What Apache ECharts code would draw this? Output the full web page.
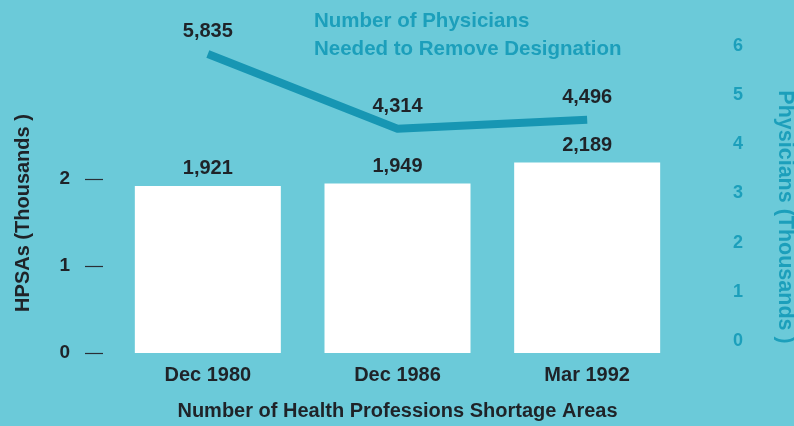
<!DOCTYPE html>
<html>
<head>
<meta charset="utf-8">
<script src="https://cdn.jsdelivr.net/npm/echarts@6/dist/echarts.min.js"></script>
<style>
  html, body { margin: 0; padding: 0; background: #6bcad9; }
  #chart { width: 794px; height: 426px; }
</style>
</head>
<body>
<div id="chart"></div>
<script>
// Health Professions Shortage Areas and physicians needed to remove designation
const categories = ['Dec 1980', 'Dec 1986', 'Mar 1992'];
const hpsaCounts = [1921, 1949, 2189];          // number of HPSAs
const physiciansNeeded = [5835, 4314, 4496];    // physicians needed
const leftTicks = [0, 1000, 2000];
const rightTicks = [0, 1000, 2000, 3000, 4000, 5000, 6000];

const FONT = '"Liberation Sans", Arial, Helvetica, sans-serif';
const DARK = '#1f2328';
const TEAL = '#1c9fbb';
const LINE = '#1796b3';

const fmt = v => v.toLocaleString('en-US');

const chart = echarts.init(document.getElementById('chart'));
chart.setOption({
  backgroundColor: '#6bcad9',
  animation: false,
  textStyle: { fontFamily: FONT },
  title: {
    text: 'Number of Physicians\nNeeded to Remove Designation',
    left: 309,
    top: 2,
    textStyle: { color: TEAL, fontSize: 20.5, fontWeight: 'bold', lineHeight: 28, fontFamily: FONT }
  },
  graphic: [
    {
      type: 'text',
      x: 23, y: 213,
      rotation: Math.PI / 2,
      style: {
        text: 'HPSAs (Thousands )',
        fill: DARK, font: 'bold 20px ' + FONT,
        align: 'center', verticalAlign: 'middle'
      }
    },
    {
      type: 'text',
      x: 785, y: 217,
      rotation: -Math.PI / 2,
      style: {
        text: 'Physicians (Thousands )',
        fill: TEAL, font: 'bold 21.5px ' + FONT,
        align: 'center', verticalAlign: 'middle'
      }
    }
  ],
  grid: { left: 113, right: 112, top: 30, bottom: 73 },
  xAxis: {
    type: 'category',
    data: categories,
    axisLine: { show: false },
    axisTick: { show: false },
    axisLabel: { color: DARK, fontSize: 20, fontWeight: 'bold', margin: 12 },
    name: 'Number of Health Professions Shortage Areas',
    nameLocation: 'middle',
    nameGap: 48,
    nameTextStyle: { color: DARK, fontSize: 20, fontWeight: 'bold', verticalAlign: 'top' }
  },
  yAxis: [
    {
      type: 'value',
      position: 'left',
      min: 0,
      max: 3713,
      offset: 10,
      splitLine: { show: false },
      axisLine: { show: false },
      axisTick: {
        show: true,
        length: 18,
        customValues: leftTicks,
        lineStyle: { color: '#2a2f36', width: 1.2 }
      },
      axisLabel: {
        color: DARK, fontSize: 19, fontWeight: 'bold', margin: 33,
        customValues: leftTicks,
        formatter: v => String(v / 1000)
      }
    },
    {
      type: 'value',
      position: 'right',
      min: -244,
      max: 6321,
      splitLine: { show: false },
      axisLine: { show: false },
      axisTick: { show: false },
      axisLabel: {
        color: TEAL, fontSize: 18, fontWeight: 'bold', margin: 51,
        customValues: rightTicks,
        formatter: v => String(v / 1000)
      }
    }
  ],
  series: [
    {
      type: 'bar',
      yAxisIndex: 0,
      data: hpsaCounts,
      barWidth: 146,
      itemStyle: { color: '#ffffff' },
      label: {
        show: true, position: 'top', distance: 7,
        color: DARK, fontSize: 20, fontWeight: 'bold',
        formatter: p => fmt(p.value)
      }
    },
    {
      type: 'line',
      yAxisIndex: 1,
      data: physiciansNeeded,
      clip: false,
      symbol: 'circle',
      symbolSize: 1,
      showSymbol: true,
      itemStyle: { color: 'rgba(0,0,0,0)' },
      lineStyle: { color: LINE, width: 8, cap: 'butt', join: 'round' },
      label: {
        show: true, position: 'top', distance: 12,
        color: DARK, fontSize: 20, fontWeight: 'bold',
        formatter: p => fmt(p.value)
      }
    }
  ]
});
</script>
</body>
</html>
